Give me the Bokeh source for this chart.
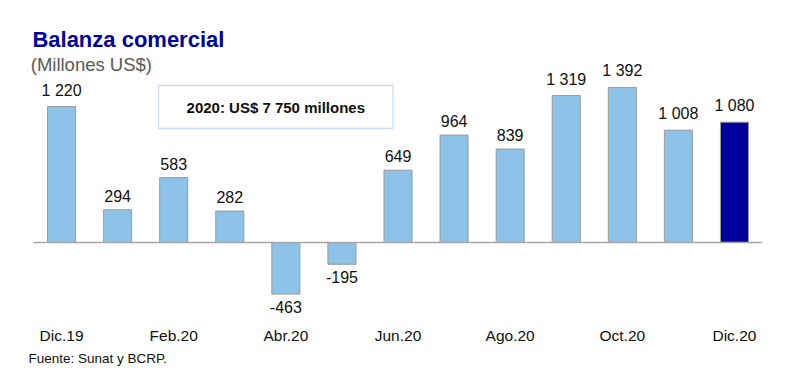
from bokeh.plotting import figure
from bokeh.models import Range1d, Title, Label, BoxAnnotation, ColumnDataSource, LabelSet, FixedTicker
from bokeh.core.properties import value
from bokeh.embed import file_html
from bokeh.resources import INLINE

months = ["Dic.19", "Ene.20", "Feb.20", "Mar.20", "Abr.20", "May.20", "Jun.20",
          "Jul.20", "Ago.20", "Set.20", "Oct.20", "Nov.20", "Dic.20"]
values = [1220, 294, 583, 282, -463, -195, 649, 964, 839, 1319, 1392, 1008, 1080]
shown_ticks = ["Dic.19", "Feb.20", "Abr.20", "Jun.20", "Ago.20", "Oct.20", "Dic.20"]
highlight = "Dic.20"

FONT = "Liberation Sans"
LIGHT = "#8DC3E8"
DARK = "#00009C"


def fmt(v):
    s = f"{abs(v):,}".replace(",", " ")
    return s if v >= 0 else "-" + s


xs = [i + 0.5 for i in range(len(months))]
colors = [DARK if m == highlight else LIGHT for m in months]
labels = [fmt(v) for v in values]
src = ColumnDataSource(dict(x=xs, v=values, c=colors))

W, H = 792, 384
p = figure(x_range=Range1d(-0.25, len(months)), y_range=Range1d(-682, 2172),
           width=W, height=H, output_backend="svg", toolbar_location=None,
           min_border_left=19, min_border_right=30, min_border_top=0, min_border_bottom=66,
           title=None)
p.outline_line_color = None
p.background_fill_color = "white"
p.border_fill_color = "white"
p.grid.visible = False
p.yaxis.visible = False

p.vbar(x="x", top="v", width=0.5, source=src, fill_color="c", line_color="#9a9a9a", line_width=1)
p.segment(x0=[0], x1=[len(months)], y0=[0], y1=[0], line_color="#a6a6a6", line_width=1.5)

pos_src = ColumnDataSource(dict(x=[x for x, v in zip(xs, values) if v >= 0],
                                v=[v for v in values if v >= 0],
                                lab=[l for l, v in zip(labels, values) if v >= 0]))
neg_src = ColumnDataSource(dict(x=[x for x, v in zip(xs, values) if v < 0],
                                v=[v for v in values if v < 0],
                                lab=[l for l, v in zip(labels, values) if v < 0]))
p.add_layout(LabelSet(x="x", y="v", text="lab", source=pos_src, y_offset=8,
                      text_align="center", text_baseline="bottom",
                      text_font=value(FONT), text_font_size=value("16px"), text_color=value("#111111")))
p.add_layout(LabelSet(x="x", y="v", text="lab", source=neg_src, y_offset=-7,
                      text_align="center", text_baseline="top",
                      text_font=value(FONT), text_font_size=value("16px"), text_color=value("#111111")))

# annotation box
p.add_layout(BoxAnnotation(left=2.23, right=6.41, bottom=1023, top=1409,
                           fill_color="white", fill_alpha=1, line_color="#5a86d0", line_width=1.3))
p.add_layout(Label(x=4.32, y=1216, text="2020: US$ 7 750 millones", text_align="center",
                   text_baseline="middle", text_font=FONT, text_font_size="15px",
                   text_font_style="bold", text_color="#111111"))

# titles
p.add_layout(Label(x=-0.02, y=1822, text="Balanza comercial", text_align="left",
                   text_baseline="middle", text_font=FONT, text_font_size="22px",
                   text_font_style="bold", text_color=DARK))
p.add_layout(Label(x=-0.05, y=1598, text="(Millones US$)", text_align="left",
                   text_baseline="middle", text_font=FONT, text_font_size="18.5px",
                   text_color="#595959"))

ax = p.xaxis[0]
ax.ticker = FixedTicker(ticks=[x for x, m in zip(xs, months) if m in shown_ticks])
ax.major_label_overrides = {x: m for x, m in zip(xs, months)}
ax.axis_line_color = None
ax.major_tick_line_color = None
ax.minor_tick_line_color = None
ax.major_tick_out = 0
ax.major_tick_in = 0
ax.major_label_text_font = FONT
ax.major_label_text_font_size = "15.5px"
ax.major_label_text_color = "#111111"
ax.major_label_standoff = 8

p.add_layout(Title(text="Fuente: Sunat y BCRP.", align="left", offset=9, text_font=FONT,
                   text_font_size="13.5px", text_font_style="normal", text_color="#111111",
                   standoff=5), "below")

open("out.html", "w").write(file_html(p, INLINE))
